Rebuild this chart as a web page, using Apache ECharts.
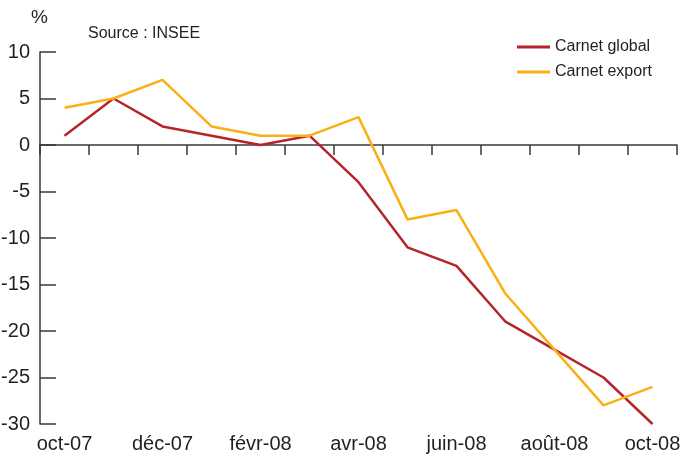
<!DOCTYPE html>
<html>
<head>
<meta charset="utf-8">
<script src="https://cdn.jsdelivr.net/npm/echarts@6/dist/echarts.min.js"></script>
<style>
  html, body { margin: 0; padding: 0; background: #fff; }
  #chart { width: 684px; height: 456px; }
</style>
</head>
<body>
<div id="chart"></div>
<script>
  const months = ['oct-07', 'nov-07', 'déc-07', 'janv-08', 'févr-08', 'mars-08', 'avr-08',
    'mai-08', 'juin-08', 'juil-08', 'août-08', 'sept-08', 'oct-08']
  const carnetGlobal = [1, 5, 2, 1, 0, 1, -4, -11, -13, -19, -22, -25, -30]
  const carnetExport = [4, 5, 7, 2, 1, 1, 3, -8, -7, -16, -22, -28, -26]

  const textColor = '#231f20'
  const axisColor = '#3a3a3a'
  const font = 'Liberation Sans'

  const chart = echarts.init(document.getElementById('chart'))

  const option = {
    animation: false,
    textStyle: { fontFamily: font },
    grid: { left: 40, right: 7, top: 52, bottom: 32, containLabel: false, outerBoundsMode: 'none' },
    graphic: [
      { type: 'text', left: 31, top: 8, style: { text: '%', font: '19px ' + font, fill: textColor } },
      { type: 'text', left: 88, top: 26, style: { text: 'Source : INSEE', font: '16px ' + font, fill: textColor } }
    ],
    legend: {
      orient: 'vertical',
      left: 512,
      top: 34,
      itemWidth: 33,
      itemHeight: 3,
      itemGap: 9,
      icon: 'rect',
      textStyle: { fontSize: 16, color: textColor, fontFamily: font },
      data: ['Carnet global', 'Carnet export']
    },
    xAxis: [
      {
        type: 'category',
        data: months,
        boundaryGap: true,
        axisLine: { onZero: true, lineStyle: { color: axisColor, width: 1.5 } },
        axisTick: { show: true, interval: 0, length: 10, lineStyle: { color: axisColor, width: 1.5 } },
        axisLabel: { show: false }
      },
      {
        type: 'category',
        data: months,
        boundaryGap: true,
        position: 'bottom',
        axisLine: { show: false, onZero: false },
        axisTick: { show: false },
        axisLabel: { interval: 1, fontSize: 20, color: textColor, margin: 10, fontFamily: font, hideOverlap: false }
      }
    ],
    yAxis: {
      type: 'value',
      min: -30,
      max: 10,
      interval: 5,
      splitLine: { show: false },
      axisLine: { show: true, lineStyle: { color: axisColor, width: 1.5 } },
      axisTick: { show: true, inside: true, length: 16, lineStyle: { color: axisColor, width: 1.5 } },
      axisLabel: { fontSize: 20, color: textColor, margin: 10, fontFamily: font }
    },
    series: [
      {
        name: 'Carnet global',
        type: 'line',
        data: carnetGlobal,
        xAxisIndex: 0,
        symbol: 'none',
        color: '#b5252b',
        lineStyle: { width: 2.5, color: '#b5252b' }
      },
      {
        name: 'Carnet export',
        type: 'line',
        data: carnetExport,
        xAxisIndex: 0,
        symbol: 'none',
        color: '#f9b016',
        lineStyle: { width: 2.5, color: '#f9b016' }
      }
    ]
  }

  chart.setOption(option)
</script>
</body>
</html>
